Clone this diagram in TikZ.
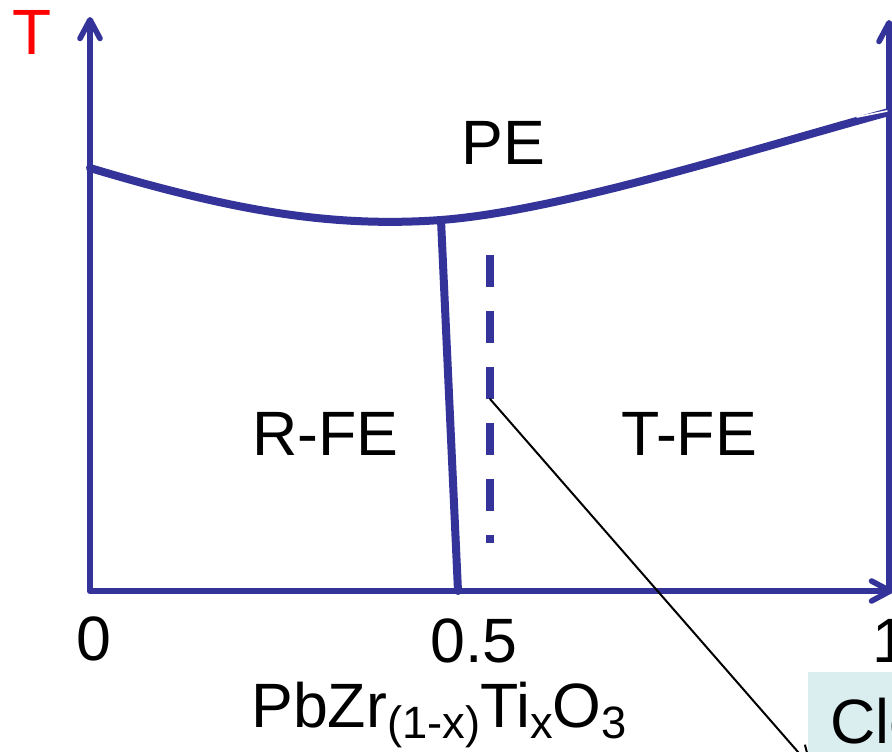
\documentclass[tikz,border=0pt]{standalone}
\usepackage{fontspec}
\setmainfont{Liberation Sans}
\usetikzlibrary{arrows.meta}
\definecolor{axisblue}{HTML}{333399}
\definecolor{noteblue}{HTML}{DAEDEF}
\newcommand\lblfont{\fontsize{47}{56}\selectfont}
\newcommand\subtxt[1]{\raisebox{-8.5pt}{\fontsize{34}{40}\selectfont #1}}
\tikzset{
    every picture/.style={line cap=round,line join=round},
    axisline/.style={draw=axisblue,line width=4.2pt,
      -{Straight Barb[length=14pt,width=15pt,round]}},
    phaseline/.style={draw=axisblue,line width=6pt},
    mpbline/.style={draw=axisblue,line width=6.5pt,line cap=butt,
      dash pattern=on 24pt off 18pt},
    pointer/.style={draw=black,line width=1.5pt,
      -{Straight Barb[length=15pt,width=15pt]}},
    phaselabel/.style={anchor=base west,inner sep=0pt,font=\lblfont},
    ticklabel/.style={anchor=base,inner sep=0pt,font=\lblfont}
}
\begin{document}
\begin{tikzpicture}[x=0.75pt,y=-0.75pt]
  \useasboundingbox (0,0) rectangle (892,752);
  \clip (0,0) rectangle (892,752);
  \coordinate (origin) at (90,591);
  \coordinate (ttop) at (90,17);
  \coordinate (xend) at (893,591);
  \coordinate (rbase) at (889,591);
  \coordinate (rtop) at (889,20);
  \draw[axisline] (origin) -- (ttop);
  \draw[axisline] (origin) -- (xend);
  \draw[axisline] (rbase) -- (rtop);

  % transition line, then the border between the two FE phases
  \coordinate (tcleft) at (90,168);
  \coordinate (mpbtop) at (441,220);
  \coordinate (tcright) at (889,112);
  \draw[phaseline] (tcleft) .. controls (230,210) and (330,228) .. (mpbtop)
    .. controls (560,211) and (750,150) .. (tcright);
  \draw[white,line width=1.2pt] (857,117) -- (887,111);
  \coordinate (mpbbot) at (458,591);
  \draw[phaseline] (mpbtop) -- (mpbbot);
  \coordinate (dashtop) at (490,255);
  \coordinate (dashbot) at (490,543);
  \draw[mpbline] (dashtop) -- (dashbot);

  \node[phaselabel,text=red,font=\fontsize{48}{56}\selectfont] (tlabel) at (12,55) {T};
  \node[phaselabel] (pe) at (461,165) {PE};
  \node[phaselabel] (rfe) at (252,455) {R-FE};
  \node[phaselabel] (tfe) at (621,455) {T-FE};
  \node[ticklabel] (tick0) at (94,660) {0};
  \node[ticklabel] (tickhalf) at (474,662) {0.5};
  \node[phaselabel] (tick1) at (872,662) {1};
  \node[phaselabel] (formula) at (251,727)
    {PbZr\subtxt{(1-x)}Ti\subtxt{x}O\subtxt{3}};

  \fill[noteblue] (808,672) rectangle (900,760);
  \node[phaselabel] (note) at (830,743) {Clo};
  \coordinate (pick) at (490,399);
  \coordinate (pickend) at (812,768);
  \draw[pointer] (pick) -- (pickend);
\end{tikzpicture}
\end{document}
